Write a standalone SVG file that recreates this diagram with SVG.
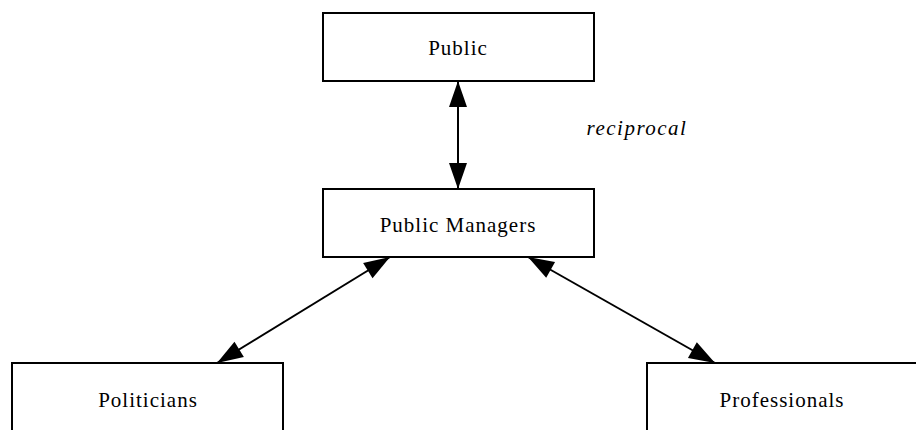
<svg xmlns="http://www.w3.org/2000/svg" width="916" height="430" viewBox="0 0 916 430">
  <style>
    .box { fill: #ffffff; stroke: #000000; stroke-width: 2; }
    .label { font-family: "Liberation Serif", "Times New Roman", serif; font-size: 21px; letter-spacing: 1px; fill: #000000; text-anchor: middle; }
    .note { font-style: italic; letter-spacing: 1.5px; }
    .edge { fill: none; stroke: #000000; stroke-width: 2; marker-start: url(#head); marker-end: url(#head); }
  </style>
  <defs>
    <marker id="head" markerUnits="userSpaceOnUse" markerWidth="26" markerHeight="18" refX="26" refY="9" orient="auto-start-reverse" overflow="visible">
      <path d="M0,0 L26,9 L0,18 z" fill="#000000"/>
    </marker>
  </defs>
  <rect width="916" height="430" fill="#ffffff"/>

  <g id="connectors">
    <line class="edge" x1="458" y1="81" x2="458" y2="189"/>
    <line class="edge" x1="390" y1="257" x2="217" y2="363"/>
    <line class="edge" x1="528" y1="257" x2="715" y2="363"/>
    <text class="label note" x="637" y="135">reciprocal</text>
  </g>

  <g id="public">
    <rect class="box" x="323" y="13" width="271" height="68"/>
    <text class="label" x="458" y="55">Public</text>
  </g>

  <g id="public-managers">
    <rect class="box" x="323" y="189" width="271" height="68"/>
    <text class="label" x="458" y="232">Public Managers</text>
  </g>

  <g id="politicians">
    <rect class="box" x="12" y="363" width="271" height="80"/>
    <text class="label" x="148" y="407">Politicians</text>
  </g>

  <g id="professionals">
    <rect class="box" x="647" y="363" width="271" height="80"/>
    <text class="label" x="782" y="407">Professionals</text>
  </g>
</svg>
